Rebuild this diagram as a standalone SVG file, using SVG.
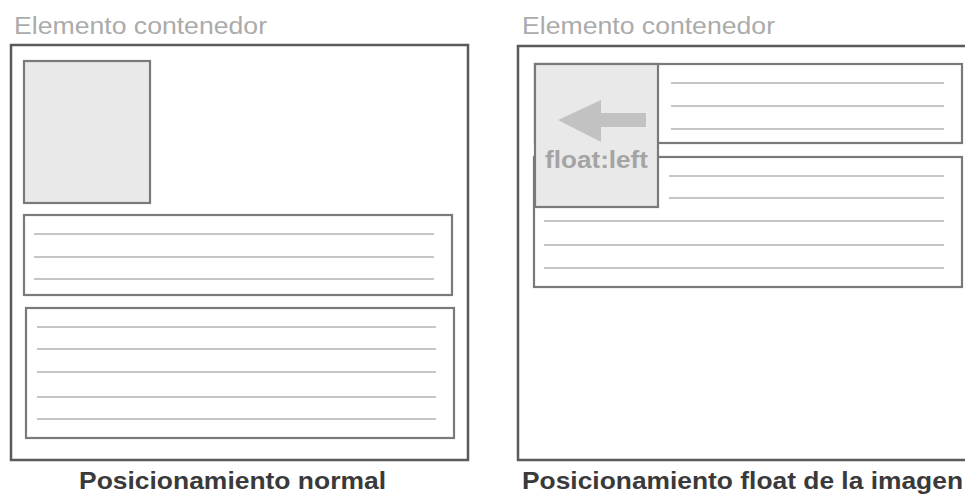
<svg xmlns="http://www.w3.org/2000/svg" width="965" height="495" viewBox="0 0 965 495">
<style>
.title{font-family:"Liberation Sans",Arial,sans-serif;font-size:23px;fill:#ababab}
.caption{font-family:"Liberation Sans",Arial,sans-serif;font-size:24px;font-weight:bold;fill:#3a3a3a}
.container{fill:#fff;stroke:#5a5a5a;stroke-width:2.5}
.box{fill:#fff;stroke:#7a7a7a;stroke-width:2.2}
.img{fill:#e9e9e9;stroke:#7a7a7a;stroke-width:2.2}
.line{stroke:#c6c6c6;stroke-width:2.2;fill:none}
.flabel{font-family:"Liberation Sans",Arial,sans-serif;font-size:24px;font-weight:bold;fill:#a4a4a4}
</style>
<rect width="965" height="495" fill="#fff"/>

<g id="normal-panel">
  <text class="title" x="14" y="34" textLength="253" lengthAdjust="spacingAndGlyphs">Elemento contenedor</text>
  <rect class="container" x="11" y="45" width="457" height="415"/>
  <g id="normal-image">
    <rect class="img" x="24" y="61" width="126" height="142"/>
  </g>
  <g id="normal-para1">
    <rect class="box" x="24" y="215" width="428" height="80"/>
    <line class="line" x1="34" y1="234" x2="434" y2="234"/>
    <line class="line" x1="34" y1="257" x2="434" y2="257"/>
    <line class="line" x1="34" y1="279" x2="434" y2="279"/>
  </g>
  <g id="normal-para2">
    <rect class="box" x="26" y="308" width="428" height="130"/>
    <line class="line" x1="37" y1="327" x2="436" y2="327"/>
    <line class="line" x1="37" y1="349" x2="436" y2="349"/>
    <line class="line" x1="37" y1="372" x2="436" y2="372"/>
    <line class="line" x1="37" y1="397" x2="436" y2="397"/>
    <line class="line" x1="37" y1="419" x2="436" y2="419"/>
  </g>
  <text class="caption" x="79" y="489" textLength="307" lengthAdjust="spacingAndGlyphs">Posicionamiento normal</text>
</g>

<g id="float-panel">
  <text class="title" x="522" y="34" textLength="253" lengthAdjust="spacingAndGlyphs">Elemento contenedor</text>
  <rect class="container" x="518" y="46" width="470" height="414"/>
  <g id="float-para1">
    <rect class="box" x="535" y="64" width="427" height="79"/>
    <line class="line" x1="671" y1="83" x2="944" y2="83"/>
    <line class="line" x1="671" y1="106" x2="944" y2="106"/>
    <line class="line" x1="671" y1="129" x2="944" y2="129"/>
  </g>
  <g id="float-para2">
    <rect class="box" x="534" y="157" width="428" height="130"/>
    <line class="line" x1="669" y1="176" x2="944" y2="176"/>
    <line class="line" x1="669" y1="198" x2="944" y2="198"/>
    <line class="line" x1="544" y1="221" x2="944" y2="221"/>
    <line class="line" x1="544" y1="245" x2="944" y2="245"/>
    <line class="line" x1="544" y1="268" x2="944" y2="268"/>
  </g>
  <g id="float-image">
    <rect class="img" x="535" y="64" width="123" height="143"/>
    <polygon points="558,120 601,100 601,113 646,113 646,127 601,127 601,142" fill="#c2c2c2"/>
    <text class="flabel" x="545" y="168" textLength="103" lengthAdjust="spacingAndGlyphs">float:left</text>
  </g>
  <text class="caption" x="522" y="489" textLength="441" lengthAdjust="spacingAndGlyphs">Posicionamiento float de la imagen</text>
</g>
</svg>
